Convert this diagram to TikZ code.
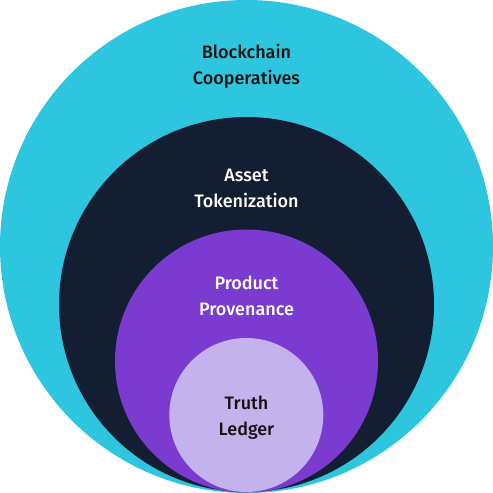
\documentclass[tikz,border=0pt]{standalone}
\usepackage{fontspec}
\setmainfont{Fira Sans Medium}
\definecolor{cyanc}{HTML}{2EC5DE}
\definecolor{darkc}{HTML}{141E33}
\definecolor{purc}{HTML}{7B3BD0}
\definecolor{lightc}{HTML}{C4B2EC}
\definecolor{txtd}{HTML}{111111}
\begin{document}
\begin{tikzpicture}[x=1pt,y=-1pt,
  lab/.style={align=center,font=\fontsize{18}{26}\selectfont,inner sep=0pt}]
\useasboundingbox (0,0) rectangle (493,493);
\fill[cyanc] (246.5,246.5) circle (246.5);
\fill[darkc] (246.5,304.5) circle (187.5);
\fill[purc] (246.5,361) circle (131.5);
\fill[lightc] (246.3,415) circle (77);
\node[lab,text=txtd] (b) at (246.5,66) {Blockchain\\Cooperatives};
\node[lab,text=white] (a) at (246.5,188) {Asset\\Tokenization};
\node[lab,text=white] (p) at (246.5,295.5) {Product\\Provenance};
\node[lab,text=txtd] (t) at (246.5,418) {Truth\\Ledger};
\end{tikzpicture}
\end{document}
